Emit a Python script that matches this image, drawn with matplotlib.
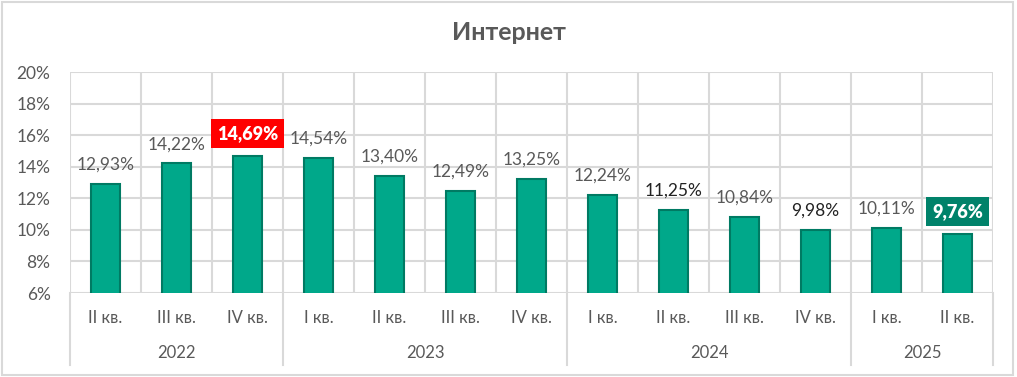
import matplotlib.pyplot as plt
from matplotlib.patches import Rectangle
from matplotlib.transforms import blended_transform_factory

# Data
quarters = ["II кв.", "III кв.", "IV кв.",
            "I кв.", "II кв.", "III кв.", "IV кв.",
            "I кв.", "II кв.", "III кв.", "IV кв.",
            "I кв.", "II кв."]
years = ["2022", "2023", "2024", "2025"]
year_sizes = [3, 4, 4, 2]
values = [12.93, 14.22, 14.69, 14.54, 13.40, 12.49, 13.25,
          12.24, 11.25, 10.84, 9.98, 10.11, 9.76]
labels = ["12,93%", "14,22%", "14,69%", "14,54%", "13,40%", "12,49%", "13,25%",
          "12,24%", "11,25%", "10,84%", "9,98%", "10,11%", "9,76%"]
highlight = {2: "#FF0000", 12: "#00826A"}
dark_labels = [8, 10]

plt.rcParams['font.family'] = ['Lato', 'DejaVu Sans']
grey = "#595959"
grid = "#D9D9D9"

fig = plt.figure(figsize=(10.17, 3.77), dpi=100)
ax = fig.add_axes([0.0688, 0.2228, 0.9076, 0.5862])

x = list(range(len(values)))
ax.bar(x, values, width=0.42, bottom=0, color="#00A88A",
       edgecolor="#007A63", linewidth=1.5, zorder=3)

ax.set_ylim(6, 20)
ax.set_xlim(-0.5, len(values) - 0.5)
ax.set_yticks(range(6, 21, 2))
ax.set_yticklabels([f"{t}%" for t in range(6, 21, 2)], fontsize=12.5, color=grey)
ax.tick_params(axis='y', length=0, pad=14)
ax.set_xticks([])
for t in range(6, 21, 2):
    ax.axhline(t, color=grid, lw=1.5, zorder=1)
for b in range(len(values) + 1):
    ax.axvline(b - 0.5, color=grid, lw=1.5, zorder=1)
for s in ax.spines.values():
    s.set_visible(False)

# value labels
for i, (v, lab) in enumerate(zip(values, labels)):
    if i in highlight:
        ax.annotate(lab, (i, v), xytext=(0, 10), textcoords="offset points",
                    ha="center", va="bottom", fontsize=13, fontweight="heavy",
                    color="white", zorder=5,
                    bbox=dict(boxstyle="square,pad=0.33", fc=highlight[i], ec="none"))
    else:
        c = "#222222" if i in dark_labels else grey
        ax.annotate(lab, (i, v), xytext=(0, 8), textcoords="offset points",
                    ha="center", va="bottom", fontsize=12.5, color=c, zorder=5)

# two-level category axis
tr = blended_transform_factory(ax.transData, ax.transAxes)
for i, q in enumerate(quarters):
    ax.text(i, -0.113, q, transform=tr, ha="center", va="center",
            fontsize=12, color=grey)
start = 0
bounds = [-0.5]
for y, n in zip(years, year_sizes):
    ax.text(start + (n - 1) / 2, -0.27, y, transform=tr, ha="center",
            va="center", fontsize=12, color=grey)
    start += n
    bounds.append(start - 0.5)
for b in bounds:
    ax.plot([b, b], [0, -0.326], transform=tr, color=grid, lw=1.5, clip_on=False)

fig.text(0.5, 0.913, "Интернет", ha="center", va="center", fontsize=18,
         fontweight="bold", color=grey)

fig.patches.append(Rectangle((2 / 1017, 2 / 377), 1011 / 1017, 373 / 377,
                             transform=fig.transFigure, fill=False,
                             ec=grid, lw=1.5))

fig.savefig("out.png", dpi=100)
